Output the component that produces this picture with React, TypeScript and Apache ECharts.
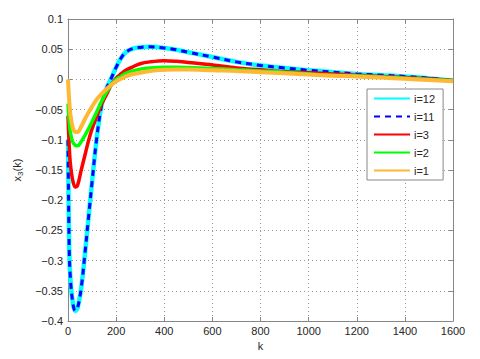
import React, { useEffect, useRef } from "react";
import * as echarts from "echarts";

const kValues = [0, 5, 10, 20, 30, 40, 55, 70, 85, 100, 120, 140, 160, 180, 200, 220, 240, 270, 300, 340, 400, 450, 500, 600, 700, 800, 900, 1000, 1100, 1200, 1300, 1400, 1500, 1600];

const i12 = [-0.1, -0.28, -0.33, -0.37, -0.383, -0.378, -0.345, -0.29, -0.23, -0.17, -0.095, -0.042, -0.015, 0.002, 0.02, 0.035, 0.045, 0.051, 0.053, 0.054, 0.052, 0.049, 0.045, 0.037, 0.029, 0.023, 0.019, 0.015, 0.012, 0.009, 0.007, 0.005, 0.002, -0.002];
const i11 = [-0.1, -0.28, -0.33, -0.37, -0.383, -0.378, -0.345, -0.29, -0.23, -0.17, -0.095, -0.042, -0.015, 0.002, 0.02, 0.035, 0.045, 0.051, 0.053, 0.054, 0.052, 0.049, 0.045, 0.037, 0.029, 0.023, 0.019, 0.015, 0.012, 0.009, 0.007, 0.005, 0.002, -0.002];
const i3 = [-0.06, -0.11, -0.14, -0.168, -0.178, -0.175, -0.15, -0.126, -0.102, -0.082, -0.061, -0.041, -0.025, -0.009, 0.002, 0.009, 0.015, 0.021, 0.026, 0.029, 0.031, 0.03, 0.028, 0.024, 0.019, 0.016, 0.013, 0.011, 0.009, 0.007, 0.005, 0.003, 0.001, -0.002];
const i2 = [-0.04, -0.07, -0.088, -0.104, -0.109, -0.11, -0.103, -0.093, -0.082, -0.07, -0.053, -0.036, -0.021, -0.009, 0.0, 0.005, 0.01, 0.014, 0.017, 0.019, 0.02, 0.02, 0.0195, 0.018, 0.016, 0.014, 0.012, 0.009, 0.007, 0.006, 0.004, 0.002, 0.0, -0.002];
const i1 = [0.0, -0.035, -0.058, -0.08, -0.087, -0.087, -0.078, -0.066, -0.055, -0.045, -0.033, -0.024, -0.016, -0.009, -0.003, 0.001, 0.005, 0.009, 0.011, 0.014, 0.016, 0.0165, 0.0165, 0.015, 0.014, 0.012, 0.01, 0.008, 0.006, 0.005, 0.003, 0.001, -0.001, -0.003];

const seriesNames = ["i=12", "i=11", "i=3", "i=2", "i=1"];
const xTicks = { min: 0, max: 1600, interval: 200 };
const yTicks = { min: -0.4, max: 0.1, interval: 0.05 };

const FONT = "Liberation Sans, Arial, Helvetica, sans-serif";

function pairs(ys: number[]) {
  return kValues.map((k, i) => [k, ys[i]]);
}

export default function App() {
  const ref = useRef<HTMLDivElement>(null);
  useEffect(() => {
    document.body.style.margin = "0";
    if (!ref.current) return;
    const chart = echarts.init(ref.current, undefined, { renderer: "svg" });
    const axisColor = "#868686";
    const labelColor = "#262626";
    const fmtY = (v: number) => {
      const s = String(Math.round(v * 1000) / 1000);
      return s.replace("-", "\u2212");
    };
    const fmtX = (v: number) => String(Math.round(v));
    const mkSeries = (name: string, data: number[], color: string, width: number, dash?: number[]) => ({
      name,
      type: "line",
      data: pairs(data),
      smooth: 0.35,
      symbol: "none",
      lineStyle: { color, width, type: dash ? dash : "solid" },
      itemStyle: { color },
      xAxisIndex: 0,
      yAxisIndex: 0,
    });
    chart.setOption({
      animation: false,
      backgroundColor: "#ffffff",
      textStyle: { fontFamily: FONT },
      grid: { left: 68, right: 27, top: 19, bottom: 38, containLabel: false },
      legend: {
        orient: "vertical",
        left: 367,
        top: 89,
        itemWidth: 36,
        itemHeight: 10,
        itemGap: 7,
        padding: [4, 8, 4, 6],
        backgroundColor: "#ffffff",
        borderColor: "#888888",
        borderWidth: 1,
        borderRadius: 0,
        itemStyle: { opacity: 0, color: "transparent", borderColor: "transparent", borderWidth: 0 },
        textStyle: { fontSize: 11, color: labelColor, fontFamily: FONT, padding: [0, 0, 0, -1] },
        data: seriesNames,
      },
      xAxis: [
        {
          type: "value",
          min: xTicks.min,
          max: xTicks.max,
          interval: xTicks.interval,
          name: "k",
          nameLocation: "middle",
          nameGap: 15,
          nameTextStyle: { fontSize: 11, color: labelColor, fontFamily: FONT },
          axisLine: { show: true, onZero: false, lineStyle: { color: axisColor, width: 1 } },
          axisTick: { show: true, inside: true, length: 4, lineStyle: { color: axisColor } },
          axisLabel: { fontSize: 11, color: labelColor, margin: 4, fontFamily: FONT, formatter: fmtX },
          splitLine: { show: true, lineStyle: { color: "#9a9a9a", type: [1, 3], width: 1 } },
        },
        {
          type: "value",
          position: "top",
          min: xTicks.min,
          max: xTicks.max,
          interval: xTicks.interval,
          axisLine: { show: true, onZero: false, lineStyle: { color: axisColor, width: 1 } },
          axisTick: { show: true, inside: true, length: 4, lineStyle: { color: axisColor } },
          axisLabel: { show: false },
          splitLine: { show: false },
        },
      ],
      yAxis: [
        {
          type: "value",
          min: yTicks.min,
          max: yTicks.max,
          interval: yTicks.interval,
          name: "{a|x}{b|3}{a|(k)}",
          nameLocation: "middle",
          nameGap: 42,
          nameRotate: 90,
          nameTextStyle: {
            color: labelColor,
            fontFamily: FONT,
            rich: {
              a: { fontSize: 11, color: labelColor, fontFamily: FONT },
              b: { fontSize: 8, color: labelColor, fontFamily: FONT, padding: [6, 0, 0, 0] },
            },
          },
          axisLine: { show: true, onZero: false, lineStyle: { color: axisColor, width: 1 } },
          axisTick: { show: true, inside: true, length: 4, lineStyle: { color: axisColor } },
          axisLabel: { fontSize: 11, color: labelColor, margin: 5, fontFamily: FONT, formatter: fmtY },
          splitLine: { show: true, lineStyle: { color: "#9a9a9a", type: [1, 3], width: 1 } },
        },
        {
          type: "value",
          position: "right",
          min: yTicks.min,
          max: yTicks.max,
          interval: yTicks.interval,
          axisLine: { show: true, onZero: false, lineStyle: { color: axisColor, width: 1 } },
          axisTick: { show: true, inside: true, length: 4, lineStyle: { color: axisColor } },
          axisLabel: { show: false },
          splitLine: { show: false },
        },
      ],
      series: [
        mkSeries(seriesNames[0], i12, "#00ffff", 4.5),
        mkSeries(seriesNames[1], i11, "#0000ff", 3, [6, 5]),
        mkSeries(seriesNames[2], i3, "#ff0000", 3.5),
        mkSeries(seriesNames[3], i2, "#00ff00", 3.5),
        mkSeries(seriesNames[4], i1, "#ffb833", 4),
      ],
    });
    return () => chart.dispose();
  }, []);
  return <div ref={ref} style={{ width: 480, height: 359 }} />;
}
